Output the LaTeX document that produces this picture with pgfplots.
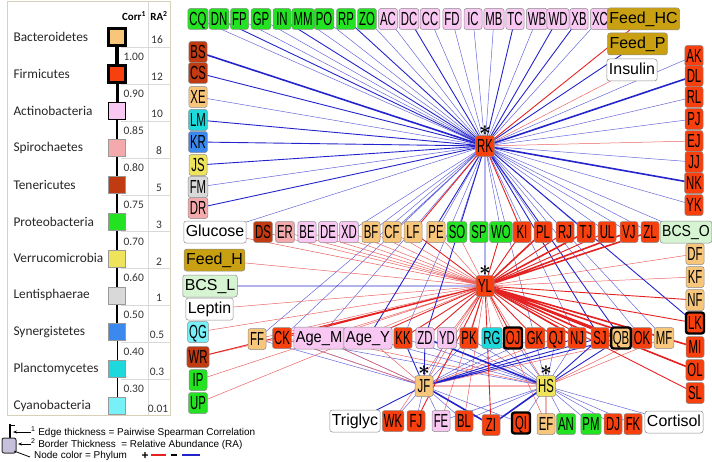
\documentclass[border=0pt]{standalone}
\usepackage{pgfplots}
\pgfplotsset{compat=1.18}
\usepackage{fontspec}
\setmainfont{Liberation Sans}
\newfontfamily\carlito{Carlito}
\usetikzlibrary{arrows.meta}

\definecolor{cBac}{HTML}{F7C67A}
\definecolor{cFir}{HTML}{F8400F}
\definecolor{cAct}{HTML}{F8C8F2}
\definecolor{cSpi}{HTML}{F4AAAC}
\definecolor{cTen}{HTML}{C03A12}
\definecolor{cPro}{HTML}{22E222}
\definecolor{cVer}{HTML}{EEE35A}
\definecolor{cLen}{HTML}{D9D9D9}
\definecolor{cSyn}{HTML}{3B89EE}
\definecolor{cPla}{HTML}{1ED9DC}
\definecolor{cCya}{HTML}{78F0F8}
\definecolor{cFeed}{HTML}{C8A012}
\definecolor{cBCS}{HTML}{D6F4D2}
\definecolor{cBlue}{HTML}{2424CC}
\definecolor{cRed}{HTML}{E42222}
\definecolor{cIcon}{HTML}{C7C0DA}
\definecolor{cPanel}{HTML}{D8D0B8}

\pgfplotsset{
  edge/.style={no markers, line cap=round},
  bthin/.style={edge, draw=cBlue!70, line width=0.5bp},
  bmed/.style={edge, draw=cBlue, line width=0.9bp},
  bthick/.style={edge, draw=cBlue, line width=1.6bp},
  rthin/.style={edge, draw=cRed!70, line width=0.5bp},
  rmed/.style={edge, draw=cRed, line width=0.9bp},
  rthick/.style={edge, draw=cRed, line width=1.6bp},
  nd/.style={only marks, mark=*, mark size=0.1bp, mark options={draw=none, fill=none},
    point meta=explicit symbolic,
    nodes near coords={\scalebox{0.6}[1]{\pgfplotspointmeta}},
    nodes near coords style={anchor=center, fill=#1, draw=black!45, line width=0.5bp,
      rounded corners=2.5bp, text=black, font=\fontsize{19}{19}\selectfont,
      inner xsep=1.6bp, inner ysep=0bp, text height=13.6bp, text depth=0bp,
      minimum height=21bp, minimum width=18bp}},
  ndthick/.style={nd=#1, nodes near coords style={draw=black, line width=2.4bp}},
  ndlong/.style={nd=#1, nodes near coords={\pgfplotspointmeta},
    nodes near coords style={font=\fontsize{16}{16}\selectfont, text height=11.6bp,
      text depth=3.2bp, minimum height=22bp, inner xsep=2bp}},
  hub/.style={nd=#1, nodes near coords style={label={[inner sep=0pt,
      font=\fontsize{22}{22}\selectfont\boldmath]above:$\ast$}}},
}

\begin{document}
\begin{tikzpicture}
\path[use as bounding box] (0,0) rectangle (712bp,462bp);
\begin{axis}[
  at={(0,0)}, anchor=south west,
  width=712bp, height=462bp, scale only axis,
  xmin=0, xmax=712, ymin=0, ymax=462, y dir=reverse,
  hide axis, clip=false,
  unbounded coords=jump,
]

% ---------- edges ----------
\addplot[bthin] coordinates {
(485,146)(198,19)(nan,nan) (485,146)(239.5,19)(nan,nan) (485,146)(261,19)(nan,nan)
(485,146)(303,19)(nan,nan) (485,146)(324,19)(nan,nan) (485,146)(367,19)(nan,nan)
(485,146)(388,19)(nan,nan) (485,146)(430,19)(nan,nan) (485,146)(452,19)(nan,nan)
(485,146)(473,19)(nan,nan) (485,146)(494,19)(nan,nan) (485,146)(537,19)(nan,nan)
(485,146)(600,19)(nan,nan) (485,146)(198,97)(nan,nan) (485,146)(198,187)(nan,nan)
(485,146)(215,232)(nan,nan) (485,146)(694,56)(nan,nan) (485,146)(694,97)(nan,nan)
(485,146)(694,119)(nan,nan) (485,146)(694,162)(nan,nan) (485,146)(694,205)(nan,nan)
(485,146)(686,232)(nan,nan) (485,146)(349,232)(nan,nan) (485,146)(371,232)(nan,nan)
(485,146)(392,232)(nan,nan) (485,146)(436,232)(nan,nan) (485,146)(457,232)(nan,nan)
(485,146)(501,232)(nan,nan) (485,146)(543,232)(nan,nan) (485,146)(586,232)(nan,nan)
(485,146)(607,232)(nan,nan) (485,146)(257,339)(nan,nan) (485,146)(282,338)(nan,nan)
(485,146)(319,338)(nan,nan) (485,146)(403,338)(nan,nan) (485,146)(535,338)(nan,nan)
(485,146)(577,338)(nan,nan) (485,146)(642,338)(nan,nan) (485,146)(664,338)(nan,nan)
(485,146)(629,232)(nan,nan) (485,146)(565,232)(nan,nan) (485,146)(650,232)(nan,nan)
(424,386)(393,421)(nan,nan) (424,386)(416,421)(nan,nan) (424,386)(441,421)(nan,nan)
(424,386)(464,421)(nan,nan) (424,386)(521,423)(nan,nan) (424,386)(257,339)(nan,nan)
(424,386)(282,338)(nan,nan) (424,386)(319,338)(nan,nan) (424,386)(447,338)(nan,nan)
(424,386)(469,338)(nan,nan) (424,386)(513,338)(nan,nan) (424,386)(535,338)(nan,nan)
(546,386)(403,338)(nan,nan) (546,386)(447,338)(nan,nan) (546,386)(469,338)(nan,nan)
(546,386)(492,338)(nan,nan) (546,386)(513,338)(nan,nan) (546,386)(535,338)(nan,nan)
(546,386)(556,338)(nan,nan) (546,386)(577,338)(nan,nan) (546,386)(464,421)(nan,nan)
(546,386)(521,423)(nan,nan) (546,386)(566,424)(nan,nan) (546,386)(591,424)(nan,nan)
(546,386)(613,424)(nan,nan) (546,386)(633,424)(nan,nan) (546,386)(674,422)(nan,nan)
(546,386)(441,421)(nan,nan) (546,386)(368,338)(nan,nan) (546,386)(282,338)(nan,nan)
};
\addplot[rthin] coordinates {
(485,146)(632,70)(nan,nan) (485,146)(694,141)(nan,nan)
(485,286)(263,232)(nan,nan) (485,286)(285,232)(nan,nan) (485,286)(307,232)(nan,nan)
(485,286)(328,232)(nan,nan) (485,286)(349,232)(nan,nan) (485,286)(371,232)(nan,nan)
(485,286)(392,232)(nan,nan) (485,286)(436,232)(nan,nan) (485,286)(215,232)(nan,nan)
(485,286)(214.5,260)(nan,nan) (485,286)(209.5,309)(nan,nan) (485,286)(198,332)(nan,nan)
(485,286)(198,380)(nan,nan) (485,286)(198,403)(nan,nan) (485,286)(695,254)(nan,nan)
(485,286)(695,277)(nan,nan) (485,286)(257,339)(nan,nan) (485,286)(319,338)(nan,nan)
(485,286)(447,338)(nan,nan) (485,286)(492,338)(nan,nan) (485,286)(664,338)(nan,nan)
(485,286)(393,421)(nan,nan) (485,286)(441,421)(nan,nan) (485,286)(464,421)(nan,nan)
(485,286)(546,424)(nan,nan) (485,286)(424,386)(nan,nan) (485,286)(546,386)(nan,nan)
(485,286)(457,232)(nan,nan)
(424,386)(368,338)(nan,nan) (424,386)(282,338)(nan,nan) (424,386)(556,338)(nan,nan)
(424,386)(642,338)(nan,nan) (424,386)(319,338)(nan,nan)
(546,386)(642,338)(nan,nan) (546,386)(664,338)(nan,nan) (546,386)(319,338)(nan,nan)
(198,357)(282,338)(nan,nan)
};
\addplot[bmed] coordinates {
(485,146)(219,19)(nan,nan) (485,146)(282,19)(nan,nan) (485,146)(346,19)(nan,nan)
(485,146)(409,19)(nan,nan) (485,146)(515,19)(nan,nan) (485,146)(558,19)(nan,nan)
(485,146)(579,19)(nan,nan) (485,146)(198,73)(nan,nan) (485,146)(198,120)(nan,nan)
(485,146)(198,142)(nan,nan) (485,146)(198,165)(nan,nan) (485,146)(198,208)(nan,nan)
(485,146)(637.5,44)(nan,nan) (485,146)(485,286)(nan,nan) (485,146)(368,338)(nan,nan)
(485,146)(425,338)(nan,nan) (485,146)(600,338)(nan,nan) (485,146)(621,338)(nan,nan)
(485,146)(695,323)(nan,nan)
(485,286)(210,286)(nan,nan)
(424,386)(355,421)(nan,nan) (424,386)(403,338)(nan,nan) (424,386)(425,338)(nan,nan)
(424,386)(600,338)(nan,nan) (424,386)(621,338)(nan,nan) (424,386)(577,338)(nan,nan)
(546,386)(600,338)(nan,nan) (546,386)(621,338)(nan,nan)
};
\addplot[rmed] coordinates {
(485,146)(643.5,19)(nan,nan) (485,146)(413,232)(nan,nan) (485,146)(522,232)(nan,nan)
(485,286)(413,232)(nan,nan) (485,286)(501,232)(nan,nan) (485,286)(522,232)(nan,nan)
(485,286)(565,232)(nan,nan) (485,286)(607,232)(nan,nan) (485,286)(198,357)(nan,nan)
(485,286)(695,300)(nan,nan) (485,286)(695,393)(nan,nan) (485,286)(282,338)(nan,nan)
(485,286)(368,338)(nan,nan) (485,286)(403,338)(nan,nan) (485,286)(425,338)(nan,nan)
(485,286)(469,338)(nan,nan) (485,286)(513,338)(nan,nan) (485,286)(535,338)(nan,nan)
(485,286)(556,338)(nan,nan) (485,286)(491,425)(nan,nan) (485,286)(416,421)(nan,nan)
(485,286)(695,323)(nan,nan)
(424,386)(546,386)(nan,nan) (546,386)(546,424)(nan,nan)
};
\addplot[bthick] coordinates {
(485,146)(198,52)(nan,nan) (485,146)(694,76)(nan,nan) (485,146)(694,183)(nan,nan)
(424,386)(491,425)(nan,nan) (546,386)(425,338)(nan,nan) (546,386)(491,425)(nan,nan)
};
\addplot[rthick] coordinates {
(485,286)(543,232)(nan,nan) (485,286)(586,232)(nan,nan) (485,286)(629,232)(nan,nan)
(485,286)(650,232)(nan,nan) (485,286)(695,347)(nan,nan) (485,286)(695,370)(nan,nan)
(485,286)(577,338)(nan,nan) (485,286)(600,338)(nan,nan) (485,286)(621,338)(nan,nan)
(485,286)(642,338)(nan,nan)
};

% ---------- network nodes ----------
\addplot[nd=cPro] coordinates {
(198,19)[CQ] (219,19)[DN] (239.5,19)[FP] (261,19)[GP] (282,19)[IN] (303,19)[MM]
(324,19)[PO] (346,19)[RP] (367,19)[ZO] (457,232)[SO] (479,232)[SP] (501,232)[WO]
(198,380)[IP] (198,403)[UP] (566,424)[AN] (591,424)[PM]};
\addplot[nd=cAct] coordinates {
(388,19)[AC] (409,19)[DC] (430,19)[CC] (452,19)[FD] (473,19)[IC] (494,19)[MB]
(515,19)[TC] (537,19)[WB] (558,19)[WD] (579,19)[XB] (600,19)[XC]
(307,232)[BE] (328,232)[DE] (349,232)[XD] (425,338)[ZD] (447,338)[YD] (441,421)[FE]};
\addplot[nd=cFir] coordinates {
(694,56)[AK] (694,76)[DL] (694,97)[RL] (694,119)[PJ] (694,141)[EJ] (694,162)[JJ]
(694,183)[NK] (694,205)[YK] (522,232)[KI] (543,232)[PL] (565,232)[RJ] (586,232)[TJ]
(607,232)[UL] (629,232)[VJ] (650,232)[ZL] (695,347)[MI] (695,370)[OL] (695,393)[SL]
(282,338)[CK] (403,338)[KK] (469,338)[PK] (535,338)[GK] (556,338)[QJ] (577,338)[NJ]
(600,338)[SJ] (642,338)[OK] (393,421)[WK] (416,421)[FJ] (464,421)[BL] (491,425)[ZI]
(613,424)[DJ] (633,424)[FK]};
\addplot[ndthick=cFir] coordinates {(695,323)[LK] (513,338)[OJ] (521,423)[QI]};
\addplot[nd=cBac] coordinates {
(198,97)[XE] (371,232)[BF] (392,232)[CF] (413,232)[LF] (436,232)[PE] (695,254)[DF]
(695,277)[KF] (695,300)[NF] (257,339)[FF] (664,338)[MF] (546,424)[EF]};
\addplot[ndthick=cBac] coordinates {(621,338)[QB]};
\addplot[nd=cTen] coordinates {(198,52)[BS] (198,73)[CS] (263,232)[DS] (198,357)[WR]};
\addplot[nd=cSpi] coordinates {(198,208)[DR] (285,232)[ER]};
\addplot[nd=cPla] coordinates {(198,120)[LM] (492,338)[RG]};
\addplot[nd=cCya] coordinates {(198,332)[QG]};
\addplot[nd=cSyn] coordinates {(198,142)[KR]};
\addplot[nd=cVer] coordinates {(198,165)[JS]};
\addplot[nd=cLen] coordinates {(198,187)[FM]};
\addplot[hub=cFir] coordinates {(485,146)[RK] (485,286)[YL]};
\addplot[hub=cBac] coordinates {(424,386)[JF]};
\addplot[hub=cVer] coordinates {(546,386)[HS]};
\addplot[ndlong=cFeed] coordinates {(643.5,19)[Feed\_HC] (637.5,44)[Feed\_P] (214.5,260)[Feed\_H]};
\addplot[ndlong=cBCS] coordinates {(210,286)[BCS\_L]};
\addplot[ndlong=cBCS, nodes near coords={\scalebox{0.88}[1]{\pgfplotspointmeta}}]
  coordinates {(686,232)[BCS\_O]};
\addplot[ndlong=white] coordinates {(215,232)[Glucose] (632,70)[Insulin] (209.5,309)[Leptin]
  (355,421)[Triglyc] (674,422)[Cortisol]};
\addplot[ndlong=cAct, nodes near coords={\scalebox{0.92}[1]{\pgfplotspointmeta}}]
  coordinates {(319,338)[Age\_M] (368,338)[Age\_Y]};

% ---------- phylum legend panel ----------
\draw[cPanel, line width=1bp] (7,2) rectangle (170,415);
\draw[black!15, line width=0.6bp] (148,2) -- (148,415)
  (121,47)--(170,47) (121,84)--(170,84) (121,121)--(170,121) (121,158)--(170,158)
  (121,195)--(170,195) (121,231)--(170,231) (121,268)--(170,268) (121,305)--(170,305)
  (121,342)--(170,342) (121,379)--(170,379);
\addplot[black, line width=3.2bp] coordinates {(117,37) (117,73.9)};
\addplot[black, line width=3.0bp] coordinates {(117,73.9) (117,110.8)};
\addplot[black, line width=2.8bp] coordinates {(117,110.8) (117,147.7)};
\addplot[black, line width=2.6bp] coordinates {(117,147.7) (117,184.6)};
\addplot[black, line width=2.4bp] coordinates {(117,184.6) (117,221.5)};
\addplot[black, line width=2.0bp] coordinates {(117,221.5) (117,258.4)};
\addplot[black, line width=1.6bp] coordinates {(117,258.4) (117,295.3)};
\addplot[black, line width=1.3bp] coordinates {(117,295.3) (117,332.2)};
\addplot[black, line width=1.0bp] coordinates {(117,332.2) (117,369.1)};
\addplot[black, line width=0.8bp] coordinates {(117,369.1) (117,406)};
\addplot[scatter, only marks, mark=square*, mark size=8.5bp, point meta=explicit symbolic,
  scatter/classes={
    a={fill=cBac, draw=black, line width=2.4bp},
    b={fill=cFir, draw=black, line width=2.4bp},
    c={fill=cAct, draw=black, line width=1.2bp},
    d={fill=cSpi, draw=black!40, line width=0.5bp},
    e={fill=cTen, draw=black!40, line width=0.5bp},
    f={fill=cPro, draw=black!40, line width=0.5bp},
    g={fill=cVer, draw=black!40, line width=0.5bp},
    h={fill=cLen, draw=black!40, line width=0.5bp},
    i={fill=cSyn, draw=black!40, line width=0.5bp},
    j={fill=cPla, draw=black!40, line width=0.5bp},
    k={fill=cCya, draw=black!40, line width=0.5bp}}]
  coordinates {(117,37)[a] (117,73.9)[b] (117,110.8)[c] (117,147.7)[d] (117,184.6)[e]
  (117,221.5)[f] (117,258.4)[g] (117,295.3)[h] (117,332.2)[i] (117,369.1)[j] (117,406)[k]};

\node[font=\carlito\bfseries\fontsize{11}{11}\selectfont] at (134,16) {Corr\textsuperscript{1}};
\node[font=\carlito\bfseries\fontsize{11}{11}\selectfont] at (159,16) {RA\textsuperscript{2}};
\begin{scope}[every node/.style={anchor=west, font=\carlito\fontsize{13.4}{14}\selectfont, text=black!85}]
\node at (10,37) {Bacteroidetes};
\node at (10,73.9) {Firmicutes};
\node at (10,110.8) {Actinobacteria};
\node at (10,147.7) {Spirochaetes};
\node at (10,184.6) {Tenericutes};
\node at (10,221.5) {Proteobacteria};
\node at (10,258.4) {Verrucomicrobia};
\node at (10,295.3) {Lentisphaerae};
\node at (10,332.2) {Synergistetes};
\node at (10,369.1) {Planctomycetes};
\node at (10,406) {Cyanobacteria};
\end{scope}
\begin{scope}[every node/.style={anchor=west, font=\carlito\fontsize{11.5}{12}\selectfont, text=black!80}]
\node at (120,57) {1.00};
\node at (120,94) {0.90};
\node at (120,131) {0.85};
\node at (120,168) {0.80};
\node at (120,205) {0.75};
\node at (120,242) {0.70};
\node at (120,278) {0.60};
\node at (120,315) {0.50};
\node at (120,352) {0.40};
\node at (120,389) {0.30};
\end{scope}
\begin{scope}[every node/.style={font=\carlito\fontsize{11.5}{12}\selectfont, text=black!80}]
\node at (157,40) {16};
\node at (157,77) {12};
\node at (157,114) {10};
\node at (159,151) {8};
\node at (159,188) {5};
\node at (159,225) {3};
\node at (159,262) {2};
\node at (159,298) {1};
\node at (157,335) {0.5};
\node at (157,372) {0.3};
\node at (158,409) {0.01};
\end{scope}

% ---------- key below the panel ----------
\draw[line width=1.8bp] (10,424) -- (10,438);
\draw[line width=1bp] (10,425) -- (15,425);
\draw[-{Stealth[length=4bp]}, line width=0.8bp] (31,432) -- (13,432);
\draw[fill=cIcon, draw=black!80, rounded corners=2bp, line width=1bp] (2,438) rectangle (16,453);
\draw[-{Stealth[length=4bp]}, line width=0.8bp] (31,444) -- (18,444);
\draw[line width=0.8bp] (14,451) -- (30,457);
\begin{scope}[every node/.style={anchor=west, font=\fontsize{10}{10}\selectfont, inner sep=1bp}]
\node at (30,432) {\textsuperscript{1} Edge thickness = Pairwise Spearman Correlation};
\node at (30,444) {\textsuperscript{2} Border Thickness \ = Relative Abundance (RA)};
\node at (33,456) {Node color = Phylum};
\end{scope}
\node[font=\bfseries\fontsize{12}{12}\selectfont] at (145,456) {+};
\draw[cRed, line width=2bp] (151,455) -- (166,455);
\draw[line width=1.8bp] (171,455) -- (177,455);
\draw[cBlue, line width=2bp] (182,455) -- (200,455);

\end{axis}
\end{tikzpicture}
\end{document}
